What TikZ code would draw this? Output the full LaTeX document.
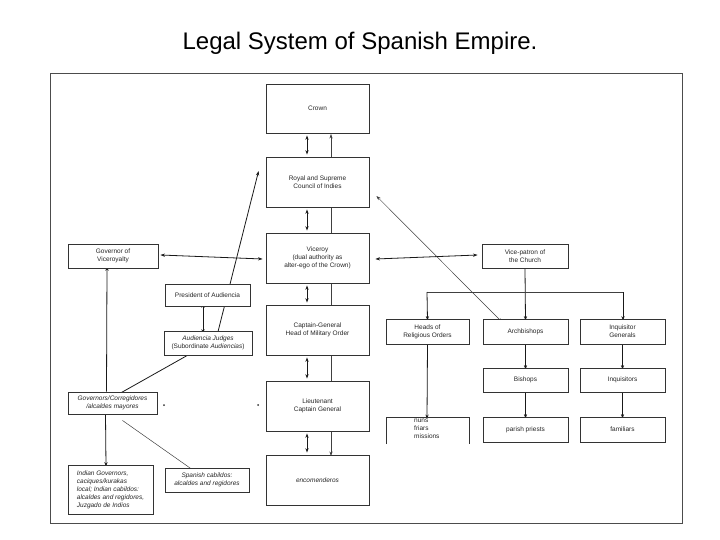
\documentclass[tikz,border=0pt]{standalone}
\usepackage{fontspec}
\setmainfont{Liberation Sans}
\usetikzlibrary{arrows.meta}
\pgfdeclarelayer{background}
\pgfsetlayers{background,main}
\tikzset{
  box/.style={draw=black!80, line width=0.8pt, fill=white, inner sep=1pt, align=center,
    font=\fontsize{6.5}{8}\selectfont, text=black!85},
  conn/.style={draw=black!90, line width=0.8pt},
  thin conn/.style={draw=black!75, line width=0.5pt},
  tip/.style={-{Stealth[length=4.5pt,width=3.2pt]}},
  tips/.style={{Stealth[length=4.5pt,width=3.2pt]}-{Stealth[length=4.5pt,width=3.2pt]}},
}
\begin{document}
\begin{tikzpicture}[x=1pt,y=-1pt]
\useasboundingbox (0,0) rectangle (720,540);
% title
\node[anchor=base, font=\fontsize{24}{28}\selectfont, inner sep=0] (title) at (360,50) {Legal System of Spanish Empire.};
% frame
\draw[draw=black!70, line width=0.8pt] (50,73) rectangle (682,523);

% coordinates for plain lines at x=331
\coordinate (c1) at (331,133); \coordinate (c2) at (331,157);
\coordinate (c3) at (331,207); \coordinate (c4) at (331,233);
\coordinate (c5) at (331,283); \coordinate (c6) at (331,305);
\coordinate (c7) at (331,355); \coordinate (c8) at (331,381);
\coordinate (c9) at (331,431); \coordinate (c10) at (331,455);

% central column
\node[box, minimum width=103pt, minimum height=49pt] (crown) at (317.5,108.5) {Crown};
\node[box, minimum width=103pt, minimum height=50pt] (council) at (317.5,182) {Royal and Supreme\\Council of Indies};
\node[box, minimum width=103pt, minimum height=50pt] (viceroy) at (317.5,258) {Viceroy\\(dual authority as\\alter-ego of the Crown)};
\node[box, minimum width=103pt, minimum height=50pt] (captain) at (317.5,330) {Captain-General\\Head of Military Order};
\node[box, minimum width=103pt, minimum height=50pt] (lieut) at (317.5,406) {Lieutenant\\Captain General};
\node[box, minimum width=103pt, minimum height=50pt] (encom) at (317.5,480) {\itshape encomenderos};

% left side
\node[box, minimum width=90pt, minimum height=24pt] (govvice) at (113,256) {Governor of\\Viceroyalty};
\node[box, minimum width=85pt, minimum height=22pt] (president) at (207.5,295) {President of Audiencia};
\node[box, minimum width=88pt, minimum height=24pt] (judges) at (208,343) {\itshape Audiencia Judges\\(Subordinate \textit{Audiencias})};
\node[box, minimum width=89pt, minimum height=22pt, font=\fontsize{6.5}{8}\selectfont\itshape] (corr) at (112.5,403) {Governors/Corregidores\\/alcaldes mayores};
\node[box, minimum width=85pt, minimum height=49pt, align=left, font=\fontsize{6.5}{8}\selectfont\itshape] (indian) at (110.5,489.5) {Indian Governors,\\caciques/kurakas\\local; Indian cabildos:\\alcaldes and regidores,\\Juzgado de Indios};
\node[box, minimum width=84pt, minimum height=24pt, font=\fontsize{6.5}{8}\selectfont\itshape] (spanish) at (207,480) {Spanish cabildos:\\alcaldes and regidores};

% right side (church)
\node[box, minimum width=86pt, minimum height=24pt] (vicepat) at (525,256) {Vice-patron of\\the Church};
\node[box, minimum width=83pt, minimum height=25pt] (heads) at (427.5,331.5) {Heads of\\Religious Orders};
\node[box, minimum width=85pt, minimum height=25pt] (archb) at (525.5,331.5) {Archbishops};
\node[box, minimum width=85pt, minimum height=25pt] (inqgen) at (622.5,331.5) {Inquisitor\\Generals};
\node[box, minimum width=85pt, minimum height=24pt] (bishops) at (525.5,380) {Bishops};
\node[box, minimum width=85pt, minimum height=24pt] (inquis) at (622.5,380) {Inquisitors};
\node[box, minimum width=85pt, minimum height=25pt] (parish) at (525.5,429.5) {parish priests};
\node[box, minimum width=85pt, minimum height=25pt] (famil) at (622.5,429.5) {familiars};
% friars box (open at the bottom)
\coordinate (fbl) at (386,444); \coordinate (ftl) at (386,417);
\coordinate (ftr) at (469,417); \coordinate (fbr) at (469,444);
\coordinate (ftop) at (427,417);
\draw[draw=black!80, line width=0.8pt] (fbl) -- (ftl) -- (ftr) -- (fbr);
\node[anchor=north west, inner sep=0, align=left, font=\fontsize{6.5}{8}\selectfont, text=black!85] (friars) at (414,418.5) {nuns\\friars\\missions};

\begin{pgfonlayer}{background}
% central column double arrows (x=307) and plain lines (x=331)
\draw[conn, tips] ([xshift=-10.5pt, yshift=-2pt]crown.south) -- ([xshift=-10.5pt, yshift=2pt]council.north);
\draw[conn, tips] ([xshift=-10.5pt, yshift=-2pt]council.south) -- ([xshift=-10.5pt, yshift=2pt]viceroy.north);
\draw[conn, tips] ([xshift=-10.5pt, yshift=-2pt]viceroy.south) -- ([xshift=-10.5pt, yshift=2pt]captain.north);
\draw[conn, tips] ([xshift=-10.5pt, yshift=-2pt]captain.south) -- ([xshift=-10.5pt, yshift=2pt]lieut.north);
\draw[conn, tips] ([xshift=-10.5pt, yshift=-2pt]lieut.south) -- ([xshift=-10.5pt, yshift=2pt]encom.north);
\draw[thin conn, tip] (c2) -- ([yshift=-1pt]c1);
\draw[thin conn] (c3) -- (c4);
\draw[thin conn] (c5) -- (c6);
\draw[thin conn] (c7) -- (c8);
\draw[thin conn, tip] (c9) -- ([yshift=-1pt]c10);

% viceroy horizontals
\draw[conn, tips] ([xshift=-3pt, yshift=-1pt]viceroy.west) -- ([xshift=2pt, yshift=1pt]govvice.east);
\draw[conn, tips] ([xshift=-4pt, yshift=1pt]vicepat.west) -- ([xshift=6pt, yshift=-1pt]viceroy.east);

% diagonals
\draw[thin conn, tips] ([xshift=-23pt, yshift=-4pt]archb.north) -- ([xshift=7pt, yshift=-14pt]council.east);
\draw[conn, tips] ([xshift=9pt, yshift=-5pt]judges.north) -- ([xshift=-7pt, yshift=11pt]council.west);
\draw[conn, tips] ([xshift=-4.5pt, yshift=3pt]president.south) -- ([xshift=-5pt, yshift=-3pt]judges.north);

% corregidores links
\draw[conn, tip] ([xshift=-6pt]corr.north) -- ([xshift=-6pt, yshift=2pt]govvice.south);
\draw[conn, tip] ([xshift=-7pt]corr.south) -- ([xshift=-4.5pt, yshift=-2pt]indian.north);
\draw[conn, tip] ([xshift=7pt, yshift=-2pt]corr.north) -- ([xshift=-10pt, yshift=6pt]judges.south);
\draw[thin conn, tip] ([xshift=-35pt, yshift=-6pt]corr.south east) -- ([xshift=-9pt, yshift=-6pt]spanish.north);

% church links
\coordinate (bl) at (427,292); \coordinate (br) at (623,292);
\draw[conn, tip] (vicepat.south) -- ([yshift=-2pt]archb.north);
\draw[thin conn] (bl) -- (br);
\draw[conn, tip] (bl) -- ([yshift=-2pt]heads.north);
\draw[conn, tip] (br) -- ([yshift=-2pt, xshift=0.5pt]inqgen.north);
\draw[conn, tip] (heads.south) -- ([yshift=-2pt]ftop);
\draw[conn, tip] (archb.south) -- ([yshift=-2pt]bishops.north);
\draw[conn, tip] (bishops.south) -- ([yshift=-2pt]parish.north);
\draw[conn, tip] (inqgen.south) -- ([yshift=-2pt]inquis.north);
\draw[conn, tip] (inquis.south) -- ([yshift=-2pt]famil.north);
\end{pgfonlayer}
\fill[black!80] (164,405) circle (1pt);
\fill[black!80] (258,405) circle (1pt);
\end{tikzpicture}
\end{document}
